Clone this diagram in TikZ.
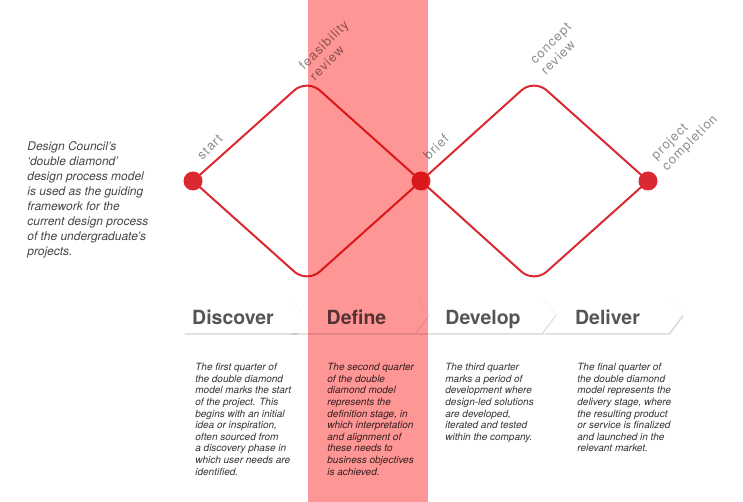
\documentclass[tikz,border=0pt]{standalone}
\usepackage{fontspec}
\setmainfont{TeX Gyre Heros}
\newfontfamily\tagfont[LetterSpace=8]{TeX Gyre Heros}
\usetikzlibrary{positioning,backgrounds,shapes.symbols,shadows}
\definecolor{ddred}{RGB}{218,41,48}
\definecolor{bandpink}{RGB}{255,150,150}
\definecolor{taggray}{RGB}{140,140,140}
\definecolor{stagegray}{RGB}{85,85,85}
\definecolor{bodygray}{RGB}{50,50,50}
\definecolor{introgray}{RGB}{70,70,70}
\tikzset{every picture/.style={line width=0.75pt}}
\tikzset{
  dot/.style={circle, fill=ddred, minimum size=19pt, inner sep=0pt},
  ddline/.style={draw=ddred, line width=2pt, rounded corners=17pt},
  tag/.style={font=\tagfont\fontsize{13}{15}\selectfont, text=taggray, rotate=45, align=left, inner sep=0pt},
  stage/.style={signal, signal to=east, signal pointer angle=106, minimum height=36pt,
    minimum width=139pt, inner sep=0pt, text height=18pt, text depth=0pt, fill=white,
    font=\bfseries\fontsize{19.5}{20}\selectfont, text=stagegray,
    drop shadow={shadow xshift=1pt, shadow yshift=-1.5pt, opacity=0.3}},
  notched/.style={signal from=west},
  blurb/.style={anchor=north west, inner sep=0pt, align=left,
    font=\itshape\fontsize{10}{11.6}\selectfont, text=bodygray},
}

\begin{document}
\begin{tikzpicture}[x=1pt,y=-1pt]
    \useasboundingbox (0,0) rectangle (743,502);

    % milestones
    \node[dot] (start) at (193,181) {};
    \node[dot, on grid, right=228pt of start] (brief) {};
    \node[dot, on grid, right=227pt of brief] (finish) {};
    \coordinate[on grid, above right=102pt and 114pt of start] (feas);
    \coordinate[on grid, below right=102pt and 114pt of start] (lowa);
    \coordinate[on grid, above right=102pt and 113pt of brief] (concept);
    \coordinate[on grid, below right=102pt and 113pt of brief] (lowb);

    \begin{scope}[on background layer]
        \draw[ddline] (start.center) -- (feas) -- (brief.center);
        \draw[ddline] (start.center) -- (lowa) -- (brief.center);
        \draw[ddline] (brief.center) -- (concept) -- (finish.center);
        \draw[ddline] (brief.center) -- (lowb) -- (finish.center);
    \end{scope}

    \node[tag] (starttag) at (210,147) {start};
    \node[tag] (feastag) at (329,50) {feasibility\\review};
    \node[tag] (brieftag) at (436,147) {brief};
    \node[tag] (concepttag) at (556,49) {concept\\review};
    \node[tag] (finishtag) at (685,138) {project\\completion};

    \node[anchor=north west, inner sep=0pt, align=left, text=introgray,
          font=\itshape\fontsize{12}{15}\selectfont] (intro) at (27,141)
        {Design Council’s\\ ‘double diamond’\\ design process model\\ is used as the guiding\\
         framework for the\\ current design process\\ of the undergraduate’s\\ projects.};

    % stages
    \node[stage, minimum width=126pt] (discover) at (240,315) {Discover\hspace*{14pt}};
    \node[stage, notched] (define) at (359.5,315) {Define\hspace*{6pt}};
    \node[stage, notched] (develop) at (486,315) {Develop\hspace*{6pt}};
    \node[stage, notched] (deliver) at (613,315) {Deliver\hspace*{11pt}};

    \node[blurb] (discovertext) at (195,363) {The first quarter of\\ the double diamond\\
        model marks the start\\ of the project. This\\ begins with an initial\\
        idea or inspiration,\\ often sourced from\\ a discovery phase in\\
        which user needs are\\ identified.};
    \node[blurb] (definetext) at (327,363) {The second quarter\\ of the double\\
        diamond model\\ represents the\\ definition stage, in\\ which interpretation\\
        and alignment of\\ these needs to\\ business objectives\\ is achieved.};
    \node[blurb] (developtext) at (445,363) {The third quarter\\ marks a period of\\
        development where\\ design-led solutions\\ are developed,\\
        iterated and tested\\ within the company.};
    \node[blurb] (delivertext) at (577,363) {The final quarter of\\ the double diamond\\
        model represents the\\ delivery stage, where\\ the resulting product\\
        or service is finalized\\ and launched in the\\ relevant market.};

    % define band
    \fill[bandpink, blend mode=multiply] (308,0) rectangle (428,502);
\end{tikzpicture}
\end{document}
